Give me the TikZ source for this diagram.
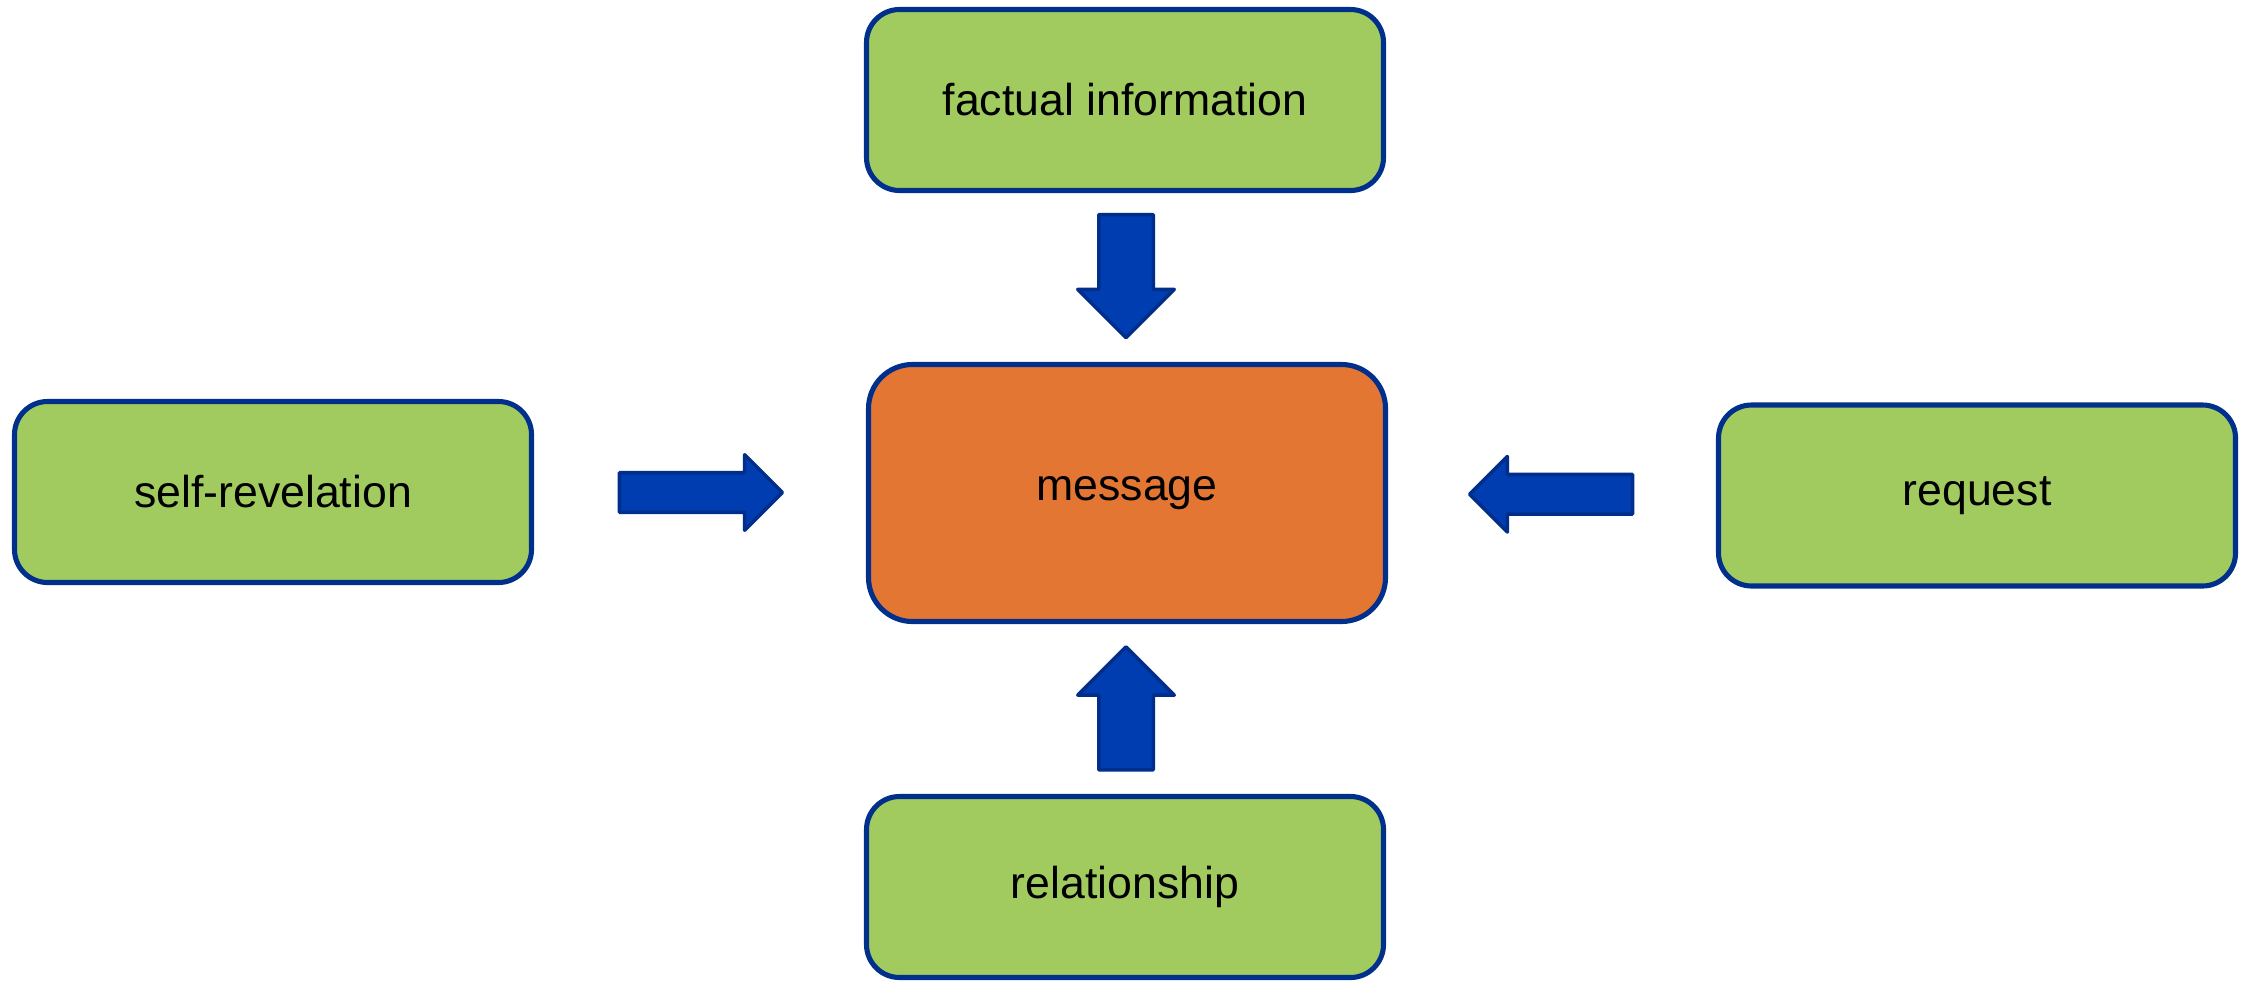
\documentclass[tikz,border=0pt]{standalone}
\usepackage{fontspec}
\setmainfont{Liberation Sans}
\usetikzlibrary{calc,shapes.arrows}
\definecolor{SideGreen}{RGB}{162,203,95}
\definecolor{MsgOrange}{RGB}{228,118,52}
\definecolor{EdgeNavy}{RGB}{0,48,140}
\definecolor{ArrowBlue}{RGB}{0,61,176}
\definecolor{ArrowEdge}{RGB}{0,46,138}

\begin{document}
\begin{tikzpicture}[
    font=\fontsize{12.7}{15}\selectfont,
    side/.style={
        draw=EdgeNavy,
        line width=1.45pt,
        rounded corners=9.4pt,
        fill=SideGreen,
        minimum width=5.17cm,
        minimum height=1.81cm
    },
    core/.style={
        draw=EdgeNavy,
        line width=1.45pt,
        rounded corners=12.5pt,
        fill=MsgOrange,
        minimum width=5.17cm,
        minimum height=2.57cm
    },
    bigarrow/.style={
        single arrow,
        draw=ArrowEdge,
        fill=ArrowBlue,
        line width=1pt,
        line join=round,
        minimum width=0pt,
        single arrow tip angle=90
    },
    vbar/.style={
        bigarrow,
        inner xsep=0.255cm,
        inner ysep=0pt,
        single arrow head extend=0.21cm,
        minimum height=1.23cm
    },
    hbar/.style={
        bigarrow,
        inner xsep=0pt,
        inner ysep=0.18cm,
        single arrow head extend=0.18cm,
        minimum height=1.63cm
    }
]
\useasboundingbox (0,0) rectangle (22.44,-9.81);

% =========================
% Boxes
% =========================
\node[core] (msg)      at (11.27,-4.93) {message};
\node[side] (fact)     at (11.25,-1.00) {factual information};
\node[side] (selfrev)  at (2.73,-4.92)  {self-revelation};
\node[side] (request)  at (19.77,-4.955) {request};
\node[side] (relation) at (11.25,-8.87) {relationship};

% =========================
% Block arrows into the message
% =========================
\node[vbar, yshift=0.15cm, shape border rotate=270]  (arrfact) at ($(fact.south)!0.5!(msg.north)$) {};
\node[vbar, yshift=-0.13cm, shape border rotate=90]  (arrrel)  at ($(relation.north)!0.5!(msg.south)$) {};
\node[hbar, xshift=-0.09cm]                          (arrself) at ($(selfrev.east)!0.5!(msg.west)$) {};
\node[hbar, xshift=0.09cm, shape border rotate=180] (arrreq)  at ($(request.west)!0.5!(msg.east)$) {};

\end{tikzpicture}
\end{document}
